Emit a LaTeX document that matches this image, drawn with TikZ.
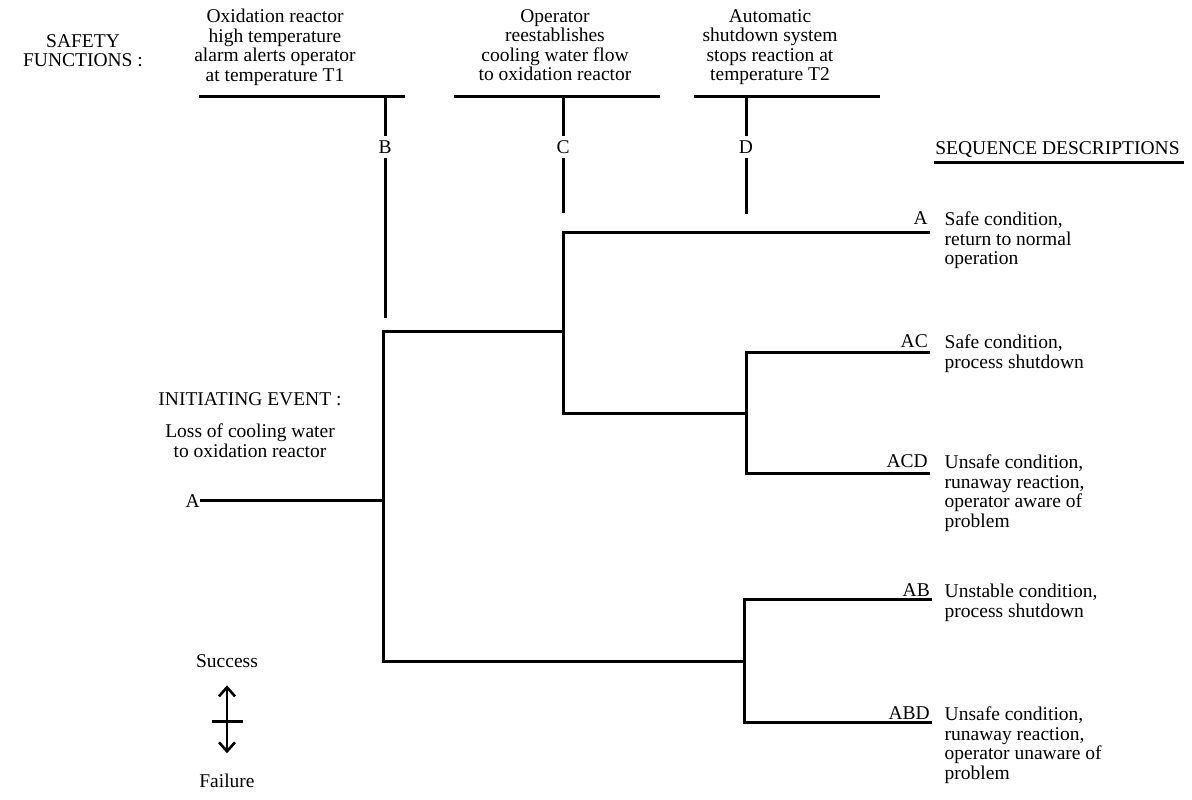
\documentclass[tikz,border=0pt]{standalone}
\usepackage{fontspec}
\setmainfont{Liberation Serif}
\usetikzlibrary{arrows.meta}
\tikzstyle{none}=[inner sep=0pt]
\tikzstyle{txt}=[font=\fontsize{19.5}{19.5}\selectfont,inner sep=0pt,align=center]
\tikzstyle{desc}=[txt,align=left,anchor=north west]
\tikzstyle{outcome}=[txt,anchor=base east]
\tikzstyle{letter}=[txt,inner sep=6pt]
\tikzstyle{branch}=[line width=3pt,line cap=rect]
\tikzstyle{updown}=[line width=2.6pt,>={Straight Barb[length=9pt,width=16pt]},<->]

\begin{document}
\begin{tikzpicture}[x=10pt,y=10pt]
            \useasboundingbox (0, 0) rectangle (119.2, 80);
            % headings
            \node [style=txt, anchor=north] (safety) at (8.3, 76.6) {SAFETY\\FUNCTIONS :};
            \node [style=txt, anchor=north] (h1) at (27.5, 79.1) {Oxidation reactor\\high temperature\\alarm alerts operator\\at temperature T1};
            \node [style=txt, anchor=north] (h2) at (55.5, 79.1) {Operator\\reestablishes\\cooling water flow\\to oxidation reactor};
            \node [style=txt, anchor=north] (h3) at (77.0, 79.1) {Automatic\\shutdown system\\stops reaction at\\temperature T2};
            \node [style=txt, anchor=base] (seq) at (105.75, 64.5) {SEQUENCE DESCRIPTIONS};
            \node [style=none] (seqL) at (93.5, 63.7) {};
            \node [style=none] (seqR) at (118.2, 63.7) {};
            % rules and function letters
            \node [style=none] (r1l) at (20.0, 70.3) {};
            \node [style=none] (r1r) at (40.3, 70.3) {};
            \node [style=none] (r1t) at (38.5, 70.3) {};
            \node [style=letter] (B) at (38.5, 65.3) {B};
            \node [style=none] (bB) at (38.5, 48.3) {};
            \node [style=none] (r2l) at (45.5, 70.3) {};
            \node [style=none] (r2r) at (65.8, 70.3) {};
            \node [style=none] (r2t) at (56.3, 70.3) {};
            \node [style=letter] (C) at (56.3, 65.3) {C};
            \node [style=none] (bC) at (56.3, 58.8) {};
            \node [style=none] (r3l) at (69.5, 70.3) {};
            \node [style=none] (r3r) at (87.8, 70.3) {};
            \node [style=none] (r3t) at (74.6, 70.3) {};
            \node [style=letter] (D) at (74.6, 65.3) {D};
            \node [style=none] (bD) at (74.6, 58.7) {};
            % initiating event
            \node [style=txt, anchor=base] (init) at (25.0, 39.4) {INITIATING EVENT :};
            \node [style=txt, anchor=north] (loss) at (25.0, 37.6) {Loss of cooling water\\to oxidation reactor};
            \node [style=txt, anchor=east, inner sep=1pt] (A) at (20.1, 29.9) {A};
            % tree points
            \node [style=none] (b0) at (38.3, 29.9) {};
            \node [style=none] (b1) at (38.3, 46.8) {};
            \node [style=none] (b2) at (38.3, 13.8) {};
            \node [style=none] (c1) at (56.3, 46.8) {};
            \node [style=none] (c1u) at (56.3, 56.7) {};
            \node [style=none] (c1d) at (56.3, 38.6) {};
            \node [style=none] (d1) at (74.6, 38.6) {};
            \node [style=none] (d1u) at (74.6, 44.7) {};
            \node [style=none] (d1d) at (74.6, 32.6) {};
            \node [style=none] (d2) at (74.4, 13.8) {};
            \node [style=none] (d2u) at (74.4, 20.0) {};
            \node [style=none] (d2d) at (74.4, 7.7) {};
            \node [style=none] (eA) at (92.8, 56.7) {};
            \node [style=none] (eAC) at (92.8, 44.7) {};
            \node [style=none] (eACD) at (92.8, 32.6) {};
            \node [style=none] (eAB) at (93.0, 20.0) {};
            \node [style=none] (eABD) at (93.0, 7.7) {};
            % sequences
            \node [style=outcome] (oA) at (92.8, 57.5) {A};
            \node [style=outcome] (oAC) at (92.8, 45.2) {AC};
            \node [style=outcome] (oACD) at (92.8, 33.2) {ACD};
            \node [style=outcome] (oAB) at (93.0, 20.3) {AB};
            \node [style=outcome] (oABD) at (93.0, 8.0) {ABD};
            \node [style=desc] (dA) at (94.45, 58.8) {Safe condition,\\return to normal\\operation};
            \node [style=desc] (dAC) at (94.45, 46.5) {Safe condition,\\process shutdown};
            \node [style=desc] (dACD) at (94.45, 34.5) {Unsafe condition,\\runaway reaction,\\operator aware of\\problem};
            \node [style=desc] (dAB) at (94.45, 21.6) {Unstable condition,\\process shutdown};
            \node [style=desc] (dABD) at (94.45, 9.3) {Unsafe condition,\\runaway reaction,\\operator unaware of\\problem};
            % key
            \node [style=txt, anchor=base] (succ) at (22.7, 13.2) {Success};
            \node [style=txt, anchor=base] (fail) at (22.7, 1.2) {Failure};
            \node [style=none] (xl) at (21.3, 7.8) {};
            \node [style=none] (xr) at (24.1, 7.8) {};

            \draw [style=branch] (seqL.center) to (seqR.center);
            \draw [style=branch] (r1l.center) to (r1r.center);
            \draw [style=branch] (r1t.center) to (B);
            \draw [style=branch] (B) to (bB.center);
            \draw [style=branch] (r2l.center) to (r2r.center);
            \draw [style=branch] (r2t.center) to (C);
            \draw [style=branch] (C) to (bC.center);
            \draw [style=branch] (r3l.center) to (r3r.center);
            \draw [style=branch] (r3t.center) to (D);
            \draw [style=branch] (D) to (bD.center);
            \draw [style=branch] (A) to (b0.center);
            \draw [style=branch] (b1.center) to (b2.center);
            \draw [style=branch] (b1.center) to (c1.center);
            \draw [style=branch] (c1u.center) to (c1d.center);
            \draw [style=branch] (c1u.center) to (eA.center);
            \draw [style=branch] (c1d.center) to (d1.center);
            \draw [style=branch] (d1u.center) to (d1d.center);
            \draw [style=branch] (d1u.center) to (eAC.center);
            \draw [style=branch] (d1d.center) to (eACD.center);
            \draw [style=branch] (b2.center) to (d2.center);
            \draw [style=branch] (d2u.center) to (d2d.center);
            \draw [style=branch] (d2u.center) to (eAB.center);
            \draw [style=branch] (d2d.center) to (eABD.center);
            \draw [style=updown, shorten <=17pt, shorten >=21pt] (succ) to (fail);
            \draw [style=branch] (xl.center) to (xr.center);
    \end{tikzpicture}
\end{document}
